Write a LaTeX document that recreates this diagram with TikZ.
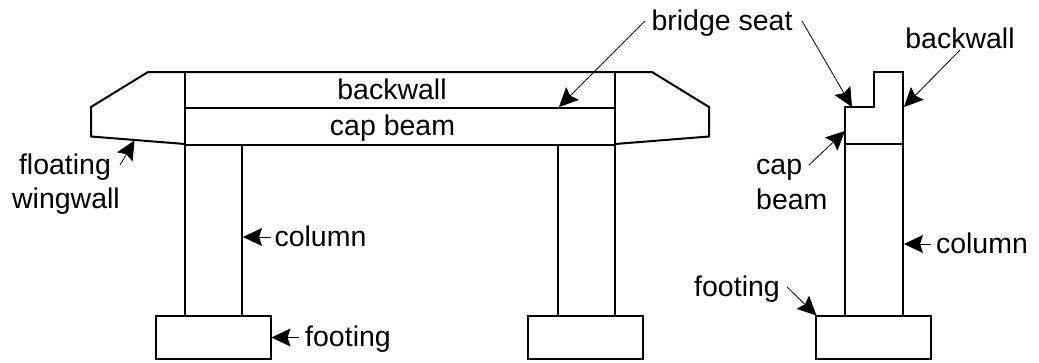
\documentclass[tikz,border=0pt]{standalone}
\usepackage{fontspec}
\setmainfont{Liberation Sans}
\usetikzlibrary{arrows.meta}
\tikzset{
  wall/.style={line width=2pt,line join=miter},
  leader/.style={line width=0.8pt,-{Stealth[length=19pt,width=18pt,inset=3pt]}},
  lab/.style={inner sep=0pt,font=\fontsize{28.5pt}{32pt}\selectfont,anchor=base},
}
\begin{document}
\begin{tikzpicture}[x=1pt,y=-1pt]
\useasboundingbox (0,0) rectangle (1039,362);
% elevation
\draw[wall] (185,144) -- (91,136.5) -- (91,107) -- (148,72) -- (652,72) -- (709,107) -- (709,136.5) -- (615,144);
\draw[wall] (185,72) -- (185,316);
\draw[wall] (615,72) -- (615,316);
\draw[wall] (185,107.5) -- (615,107.5);
\draw[wall] (185,145) -- (615,145);
\draw[wall] (242,144) -- (242,316);
\draw[wall] (558,144) -- (558,316);
\draw[wall] (156,316) rectangle (271,359);
\draw[wall] (528,316) rectangle (643,359);
% side view
\draw[wall] (845,316) -- (845,107) -- (873.7,107) -- (873.7,72) -- (903,72) -- (903,316);
\draw[wall] (845,144) -- (903,144);
\draw[wall] (816,316) rectangle (931,359);
% labels
\node[lab] (bs) at (722,30) {bridge seat};
\node[lab] (bw1) at (960,48.5) {backwall};
\node[lab] (bw2) at (392,99) {backwall};
\node[lab] (cb) at (392.5,135) {cap beam};
\node[lab] (fl) at (65,174.5) {floating};
\node[lab] (ww) at (66,208.5) {wingwall};
\node[lab] (c1) at (320.5,246) {column};
\node[lab] (f1) at (348,346) {footing};
\node[lab,anchor=base west] (cp) at (756,174.5) {cap};
\node[lab,anchor=base west] (bm) at (756,209.5) {beam};
\node[lab] (c2) at (982,253) {column};
\node[lab] (f2) at (737,296) {footing};
% leaders
\coordinate (a1s) at (645,21); \coordinate (a1e) at (559,107);
\coordinate (a2s) at (802,21); \coordinate (a2e) at (852,107);
\coordinate (a3s) at (960,50); \coordinate (a3e) at (904,107);
\coordinate (a4s) at (809,165); \coordinate (a4e) at (845,131);
\coordinate (a5s) at (120,165); \coordinate (a5e) at (134.5,140.5);
\coordinate (a6s) at (271,237); \coordinate (a6e) at (243,237);
\coordinate (a7s) at (299,337.5); \coordinate (a7e) at (271.5,337.5);
\coordinate (a8s) at (931,244); \coordinate (a8e) at (904,244);
\coordinate (a9s) at (787,287); \coordinate (a9e) at (816.5,315.5);
\foreach \n in {1,...,9} \draw[leader] (a\n s) -- (a\n e);
\end{tikzpicture}
\end{document}
